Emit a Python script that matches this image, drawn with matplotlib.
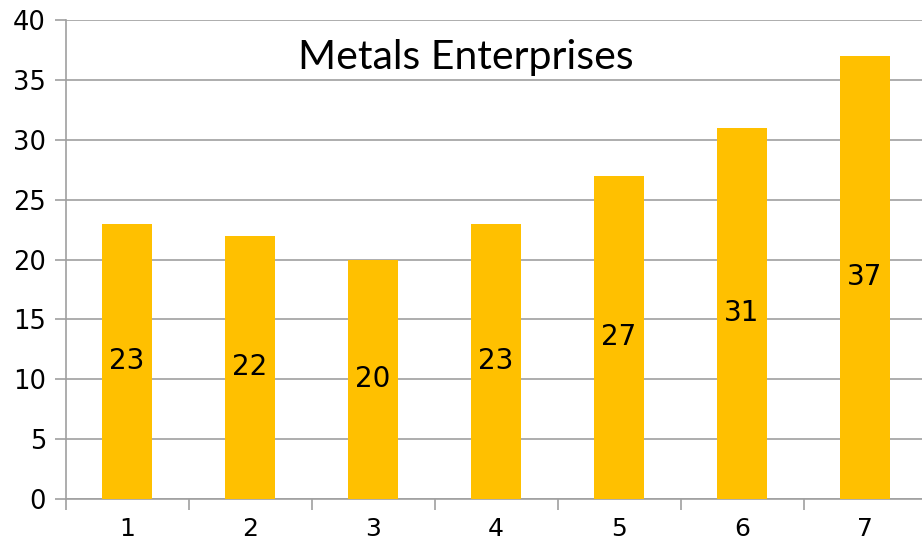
import matplotlib
matplotlib.use("Agg")
import matplotlib.pyplot as plt
from matplotlib import font_manager

categories = ["1", "2", "3", "4", "5", "6", "7"]
values = [23, 22, 20, 23, 27, 31, 37]
title = "Metals Enterprises"
yticks = [0, 5, 10, 15, 20, 25, 30, 35, 40]

names = {f.name for f in font_manager.fontManager.ttflist}
fam = "DejaVu Sans"
title_fam = "Liberation Sans Narrow" if "Liberation Sans Narrow" in names else "Lato"

fig = plt.figure(figsize=(9.22, 5.44), dpi=100)
W, H = 922, 544
ax = fig.add_axes([65.5 / W, (544 - 499) / H, 861 / W, 479 / H])

x = list(range(len(categories)))
bars = ax.bar(x, values, width=0.4, color="#FFC000", zorder=3)
for xi, v in zip(x, values):
    ax.text(xi, v / 2, str(v), ha="center", va="center", fontsize=20,
            family=fam, color="black", zorder=4)

ax.set_xlim(-0.5, len(categories) - 0.5)
ax.set_ylim(0, 40)
ax.set_yticks(yticks)
ax.set_yticklabels([str(t) for t in yticks], family=fam, fontsize=18.5)
ax.set_xticks(x)
ax.set_xticklabels(categories, family=fam, fontsize=18)
ax.tick_params(axis="x", length=0, pad=13)
ax.set_xticks([i + 0.5 for i in range(-1, len(categories))], minor=True)
ax.tick_params(axis="x", which="minor", length=8, color="#A0A0A0", width=1.2)
ax.tick_params(axis="y", length=8, color="#A0A0A0", width=1.2, pad=6)
ax.grid(axis="y", color="#A0A0A0", linewidth=1.2, zorder=0)
for s in ["top", "right"]:
    ax.spines[s].set_visible(False)
for s in ["left", "bottom"]:
    ax.spines[s].set_color("#A0A0A0")
    ax.spines[s].set_linewidth(1.2)

fig.text(466 / W, 1 - 57 / H, title, ha="center", va="center", fontsize=29.5,
         family=title_fam, color="black")

fig.savefig("out.png", dpi=100)
